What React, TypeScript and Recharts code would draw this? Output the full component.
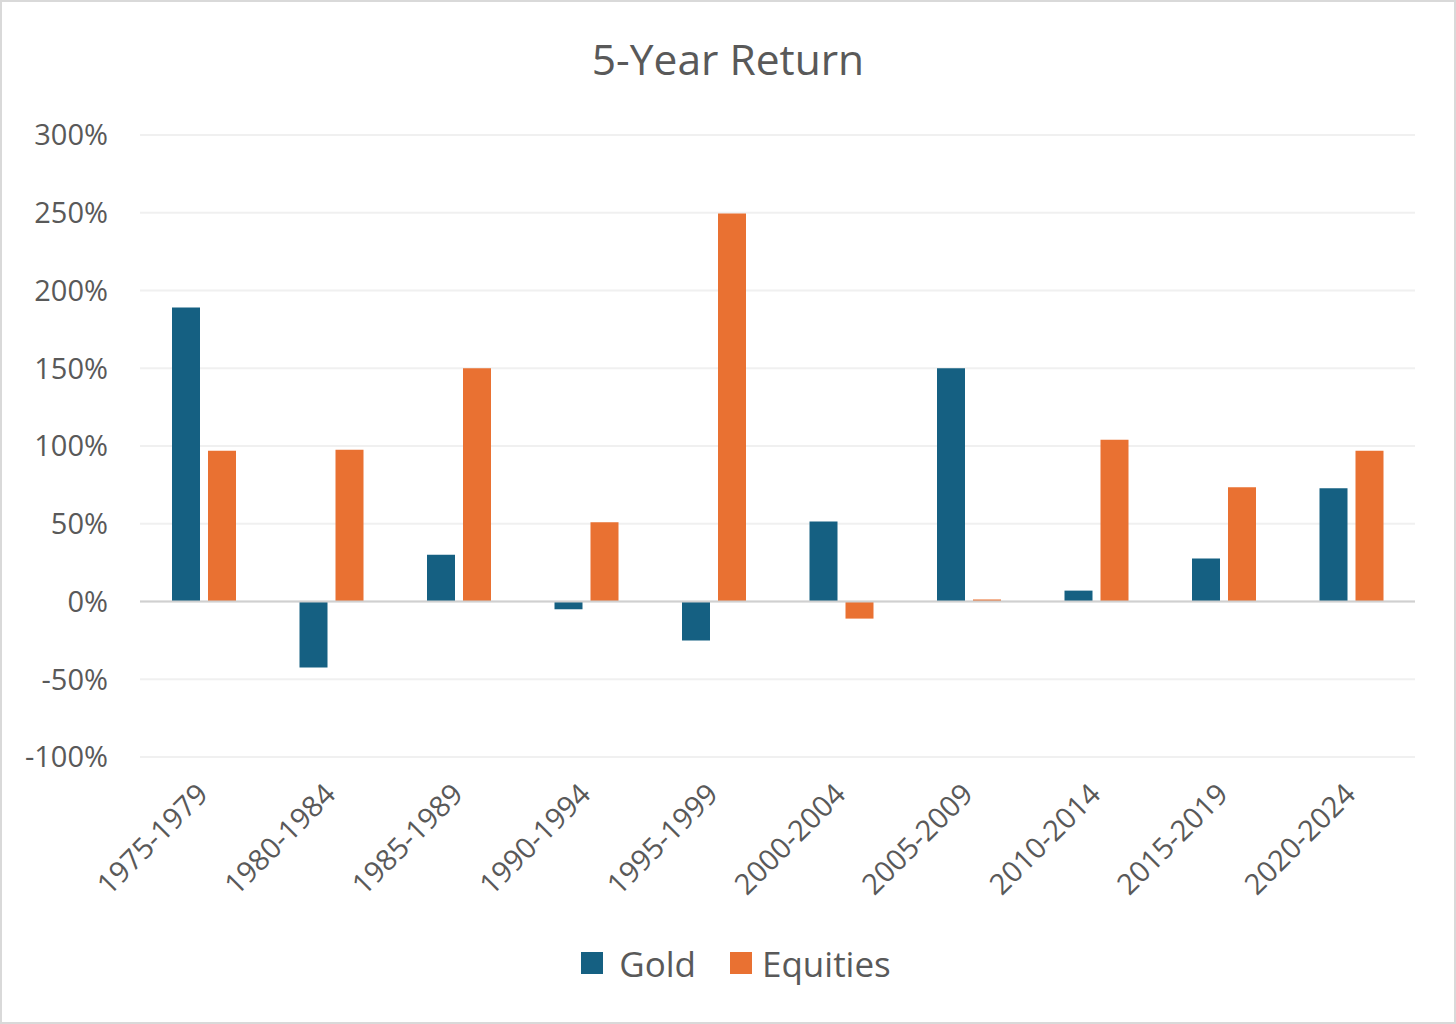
import React from "react";
import { BarChart, Bar, XAxis, YAxis, CartesianGrid, ReferenceLine } from "recharts";

const categories = ["1975-1979", "1980-1984", "1985-1989", "1990-1994", "1995-1999", "2000-2004", "2005-2009", "2010-2014", "2015-2019", "2020-2024"];
const gold = [1.89, -0.425, 0.3, -0.05, -0.25, 0.515, 1.5, 0.07, 0.277, 0.729];
const equities = [0.97, 0.976, 1.5, 0.51, 2.495, -0.11, 0.013, 1.04, 0.735, 0.97];
const yTicks = [-1, -0.5, 0, 0.5, 1, 1.5, 2, 2.5, 3];

const data = categories.map((c, i) => ({ name: c, Gold: gold[i], Equities: equities[i] }));

const FONT = "'Open Sans', 'Noto Sans', sans-serif";
const TEXT = "#595959";
const GOLD = "#156082";
const EQ = "#E97132";

const XTick = (props: any) => {
  const { x, y, payload } = props;
  const ax = x + 6;
  const ay = y + 31;
  return (
    <text
      x={ax}
      y={ay}
      textAnchor="end"
      fill={TEXT}
      fontSize={29}
      fontFamily={FONT}
      transform={`rotate(-45 ${ax} ${ay})`}
    >
      {payload.value}
    </text>
  );
};

export default function App() {
  return (
    <div
      style={{
        position: "absolute",
        left: 0,
        top: 0,
        width: 1456,
        height: 1024,
        border: "2px solid #d9d9d9",
        boxSizing: "border-box",
        background: "#fff",
        overflow: "hidden",
      }}
    >
      <div
        style={{
          position: "absolute",
          top: 27,
          left: -2,
          width: 1456,
          textAlign: "center",
          fontFamily: FONT,
          fontSize: 42.5,
          color: TEXT,
          lineHeight: "60px",
        }}
      >
        5-Year Return
      </div>
      <div style={{ position: "absolute", left: -2, top: -2 }}>
        <BarChart
          width={1456}
          height={1024}
          data={data}
          margin={{ top: 135, right: 41, left: 0, bottom: 117 }}
          barSize={28}
          barGap={8}
        >
          <CartesianGrid vertical={false} stroke="#f0f0f0" strokeWidth={2} />
          <XAxis
            dataKey="name"
            axisLine={false}
            tickLine={false}
            tick={<XTick />}
            interval={0}
            height={150}
          />
          <YAxis
            width={140}
            domain={[-1, 3]}
            ticks={yTicks}
            axisLine={false}
            tickLine={false}
            tickMargin={26}
            tickFormatter={(v: number) => `${Math.round(v * 100)}%`}
            tick={{ fill: TEXT, fontSize: 29, fontFamily: FONT }}
            interval={0}
          />
          <ReferenceLine y={0} stroke="#d0d0d0" strokeWidth={2} />
          <Bar dataKey="Gold" fill={GOLD} isAnimationActive={false} />
          <Bar dataKey="Equities" fill={EQ} isAnimationActive={false} />
        </BarChart>
      </div>
      <div
        style={{
          position: "absolute",
          top: 936,
          left: 6,
          width: 1456,
          height: 50,
          display: "flex",
          justifyContent: "center",
          alignItems: "center",
          fontFamily: FONT,
          color: TEXT,
          fontSize: 35,
        }}
      >
        <span style={{ display: "inline-block", width: 22, height: 22, background: GOLD, marginRight: 16 }} />
        <span style={{ marginRight: 34 }}>Gold</span>
        <span style={{ display: "inline-block", width: 22, height: 22, background: EQ, marginRight: 10 }} />
        <span>Equities</span>
      </div>
    </div>
  );
}
